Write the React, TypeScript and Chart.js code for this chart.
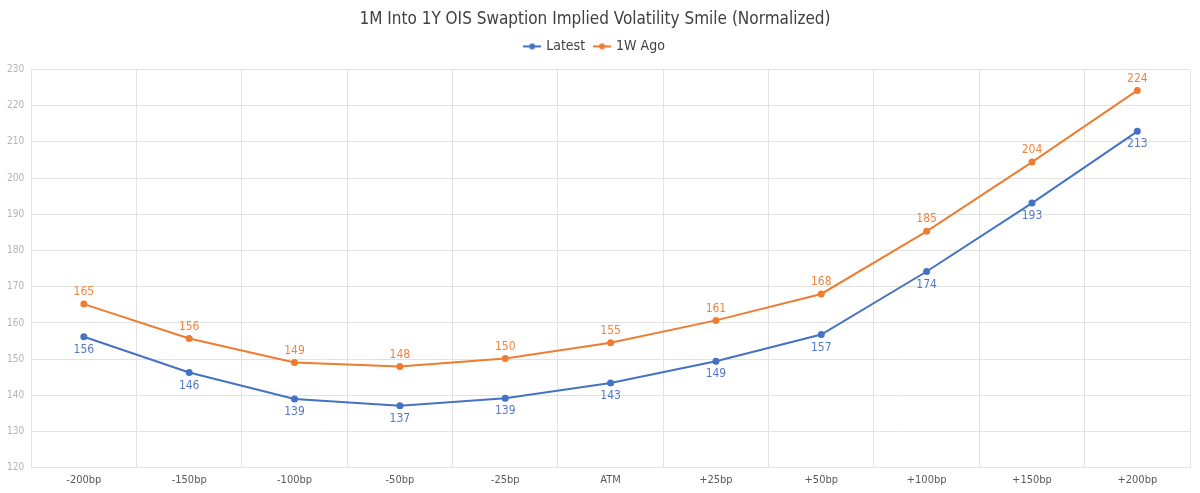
import React, { useEffect, useRef } from "react";
import { Chart, registerables } from "chart.js";

Chart.register(...registerables);

const strikes = ["-200bp", "-150bp", "-100bp", "-50bp", "-25bp", "ATM", "+25bp", "+50bp", "+100bp", "+150bp", "+200bp"];
const latest = [156.2, 146.3, 139.0, 137.1, 139.2, 143.4, 149.4, 156.8, 174.2, 193.1, 212.9];
const weekAgo = [165.2, 155.7, 149.1, 148.0, 150.2, 154.5, 160.7, 168.0, 185.3, 204.4, 224.2];
const yTicks = { min: 120, max: 230, step: 10 };

const BLUE = "#4472C4";
const ORANGE = "#ED7D31";
const LABEL_COLORS = ["#5478c8", "#f0843f"];
const FONT = "'Liberation Sans Narrow', 'DejaVu Sans Condensed', Roboto, sans-serif";

// Legend swatch: short line with a dot in the middle
function swatch(color: string): HTMLCanvasElement {
  const c = document.createElement("canvas");
  c.width = 18;
  c.height = 10;
  const ctx = c.getContext("2d")!;
  ctx.strokeStyle = color;
  ctx.lineWidth = 2;
  ctx.beginPath();
  ctx.moveTo(0, 5);
  ctx.lineTo(18, 5);
  ctx.stroke();
  ctx.fillStyle = color;
  ctx.beginPath();
  ctx.arc(9, 5, 3, 0, Math.PI * 2);
  ctx.fill();
  return c;
}

// Value labels: latest below each point, 1W ago above
const valueLabels = {
  id: "valueLabels",
  afterDatasetsDraw(chart: any) {
    const ctx = chart.ctx;
    ctx.save();
    ctx.font = `12px ${FONT}`;
    ctx.textAlign = "center";
    chart.data.datasets.forEach((ds: any, i: number) => {
      const meta = chart.getDatasetMeta(i);
      const below = i === 0;
      ctx.fillStyle = LABEL_COLORS[i];
      ctx.textBaseline = below ? "top" : "bottom";
      meta.data.forEach((pt: any, j: number) => {
        const v = Math.round(ds.data[j]);
        ctx.fillText(String(v), pt.x, below ? pt.y + 7 : pt.y - 6);
      });
    });
    ctx.restore();
  },
};

// Extra room between the legend and the plot area
const legendGap = {
  id: "legendGap",
  beforeInit(chart: any) {
    const legend = chart.legend;
    const fit = legend.fit;
    legend.fit = function () {
      fit.call(this);
      this.height += 6;
    };
  },
};

export default function App() {
  const ref = useRef<HTMLCanvasElement>(null);

  useEffect(() => {
    const swatches = [swatch(BLUE), swatch(ORANGE)];
    const chart = new Chart(ref.current!, {
      type: "line",
      data: {
        labels: strikes,
        datasets: [
          {
            label: "Latest",
            data: latest,
            borderColor: BLUE,
            backgroundColor: BLUE,
            borderWidth: 2,
            pointRadius: 2.5,
            pointHoverRadius: 2.5,
            tension: 0,
          },
          {
            label: "1W Ago",
            data: weekAgo,
            borderColor: ORANGE,
            backgroundColor: ORANGE,
            borderWidth: 2,
            pointRadius: 2.5,
            pointHoverRadius: 2.5,
            tension: 0,
          },
        ],
      },
      options: {
        animation: false,
        responsive: true,
        maintainAspectRatio: false,
        layout: { padding: { left: 0, right: 10, top: 9, bottom: 0 } },
        plugins: {
          title: {
            display: true,
            text: "1M Into 1Y OIS Swaption Implied Volatility Smile (Normalized)",
            color: "#404040",
            font: { family: FONT, size: 17, weight: "normal" },
            padding: { top: 0, bottom: 0 },
          },
          legend: {
            display: true,
            position: "top",
            labels: {
              color: "#404040",
              font: { family: FONT, size: 14 },
              usePointStyle: true,
              padding: 10,
              generateLabels: (c: any) =>
                c.data.datasets.map((ds: any, i: number) => ({
                  text: ds.label,
                  fillStyle: ds.borderColor,
                  strokeStyle: ds.borderColor,
                  fontColor: "#404040",
                  pointStyle: swatches[i],
                  lineWidth: 0,
                  datasetIndex: i,
                  hidden: false,
                })),
            },
          },
          tooltip: { enabled: false },
        },
        scales: {
          x: {
            offset: true,
            grid: { color: "#e3e3e3", offset: true, drawTicks: false },
            border: { color: "#e3e3e3" },
            ticks: { color: "#595959", font: { family: FONT, size: 11 }, padding: 6 },
          },
          y: {
            min: yTicks.min,
            max: yTicks.max,
            grid: { color: "#e3e3e3", drawTicks: false },
            border: { color: "#e3e3e3" },
            ticks: {
              stepSize: yTicks.step,
              color: "#b4b4b4",
              font: { family: FONT, size: 10 },
              padding: 7,
            },
          },
        },
      },
      plugins: [valueLabels, legendGap],
    });
    return () => chart.destroy();
  }, []);

  return (
    <div
      style={{
        position: "absolute",
        left: 0,
        top: 0,
        width: "1200px",
        height: "493px",
        overflow: "hidden",
      }}
    >
      <canvas ref={ref} />
    </div>
  );
}
